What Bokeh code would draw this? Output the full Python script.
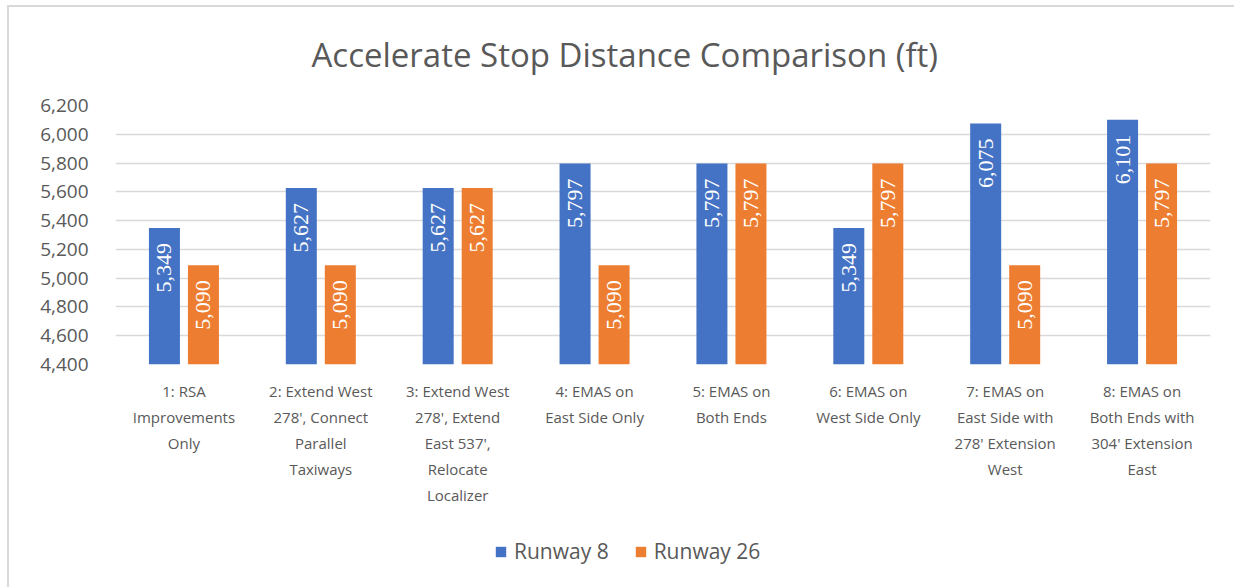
from bokeh.plotting import figure
from bokeh.layouts import column
from bokeh.models import (ColumnDataSource, Range1d, FixedTicker, NumeralTickFormatter,
                          LabelSet, Legend, LegendItem)
from bokeh.transform import dodge
from bokeh.embed import file_html
from bokeh.resources import INLINE
import math

categories = [
    "1: RSA\nImprovements\nOnly",
    "2: Extend West\n278', Connect\nParallel\nTaxiways",
    "3: Extend West\n278', Extend\nEast 537',\nRelocate\nLocalizer",
    "4: EMAS on\nEast Side Only",
    "5: EMAS on\nBoth Ends",
    "6: EMAS on\nWest Side Only",
    "7: EMAS on\nEast Side with\n278' Extension\nWest",
    "8: EMAS on\nBoth Ends with\n304' Extension\nEast",
]
runway8 = [5349, 5627, 5627, 5797, 5797, 5349, 6075, 6101]
runway26 = [5090, 5090, 5627, 5090, 5797, 5797, 5090, 5797]
y_ticks = [4400, 4600, 4800, 5000, 5200, 5400, 5600, 5800, 6000, 6200]
title_text = "Accelerate Stop Distance Comparison (ft)"
series_names = ["Runway 8", "Runway 26"]

BLUE = "#4472C4"
ORANGE = "#ED7D31"
TXT = "#595959"
GRID = "#D9D9D9"
FONT = "Open Sans"

src = ColumnDataSource(dict(
    cat=categories,
    r8=runway8,
    r26=runway26,
    r8_lbl=[f"{v:,}" for v in runway8],
    r26_lbl=[f"{v:,}" for v in runway26],
))

p = figure(width=1234, height=530, x_range=categories,
           y_range=Range1d(y_ticks[0], y_ticks[-1]),
           output_backend="svg", toolbar_location=None,
           min_border_left=115, min_border_right=24,
           min_border_top=105, min_border_bottom=166)
p.x_range.range_padding = 0
p.outline_line_color = None
p.background_fill_color = "white"
p.border_fill_color = "white"

bw = 0.2265
off = 0.1425
b8 = p.vbar(x=dodge("cat", -off, range=p.x_range), top="r8", bottom=y_ticks[0],
            width=bw, source=src, fill_color=BLUE, line_color=None)
b26 = p.vbar(x=dodge("cat", off, range=p.x_range), top="r26", bottom=y_ticks[0],
             width=bw, source=src, fill_color=ORANGE, line_color=None)

for col, lbl, o in (("r8", "r8_lbl", -off), ("r26", "r26_lbl", off)):
    ls = LabelSet(x=dodge("cat", o, range=p.x_range), y=col, text=lbl, source=src,
                  angle=math.pi / 2, text_align="right", text_baseline="middle",
                  y_offset=-15, text_color="white", text_font=FONT,
                  text_font_size="22px")
    p.add_layout(ls)

# axes
p.yaxis.ticker = FixedTicker(ticks=y_ticks)
p.yaxis.formatter = NumeralTickFormatter(format="0,0")
p.yaxis.major_label_text_font = FONT
p.yaxis.major_label_text_font_size = "19px"
p.yaxis.major_label_text_color = TXT
p.yaxis.major_label_standoff = 21
p.yaxis.axis_line_color = None
p.yaxis.major_tick_line_color = None
p.yaxis.minor_tick_line_color = None

p.xaxis.major_label_text_font = FONT
p.xaxis.major_label_text_font_size = "15px"
p.xaxis.major_label_text_color = TXT
p.xaxis.major_label_text_line_height = 1.3
p.xaxis.major_label_standoff = 10
p.xaxis.axis_line_color = None
p.xaxis.major_tick_line_color = None
p.xaxis.minor_tick_line_color = None

p.xgrid.grid_line_color = None
p.ygrid.ticker = FixedTicker(ticks=y_ticks)
p.ygrid.grid_line_color = GRID
p.ygrid.grid_line_width = 1.5

# title
p.title.text = title_text
p.title.text_font = FONT
p.title.text_font_size = "33px"
p.title.text_font_style = "normal"
p.title.text_color = TXT
p.title.align = "left"
p.title.offset = 196
p.title.standoff = 58

# legend strip below the chart (its frame is aligned with the chart's frame)
lg = figure(width=1234, height=57, output_backend="svg", toolbar_location=None,
            x_axis_type=None, y_axis_type=None, min_border=0,
            x_range=Range1d(0, 1), y_range=Range1d(0, 1))
lg.outline_line_color = None
lg.grid.grid_line_color = None
lg.background_fill_color = "white"
lg.border_fill_color = "white"
# legend-only swatches: one point each, placed outside the visible range
swatch = ColumnDataSource(dict(x=[-5], top=[-5]))
l8 = lg.vbar(x="x", top="top", width=0.1, source=swatch, fill_color=BLUE, line_color=None)
l26 = lg.vbar(x="x", top="top", width=0.1, source=swatch, fill_color=ORANGE, line_color=None)
legend = Legend(items=[LegendItem(label=series_names[0], renderers=[l8]),
                       LegendItem(label=series_names[1], renderers=[l26])],
                orientation="horizontal", location=(379, 22),
                glyph_width=13, glyph_height=13, label_standoff=7, spacing=25,
                padding=0, margin=0, border_line_color=None,
                background_fill_alpha=0,
                label_text_font=FONT, label_text_font_size="21px",
                label_text_color=TXT)
lg.add_layout(legend)

layout = column(p, lg, spacing=0)

html = file_html(layout, INLINE)
deco = ('<style>.chartframe{position:absolute;left:7px;top:5px;width:1300px;height:700px;'
        'border-left:2px solid #d9d9d9;border-top:2px solid #d9d9d9;pointer-events:none;}</style>')
html = html.replace("</head>", deco + "</head>", 1)
html = html.replace("</body>", '<div class="chartframe"></div></body>', 1)
open("out.html", "w").write(html)
